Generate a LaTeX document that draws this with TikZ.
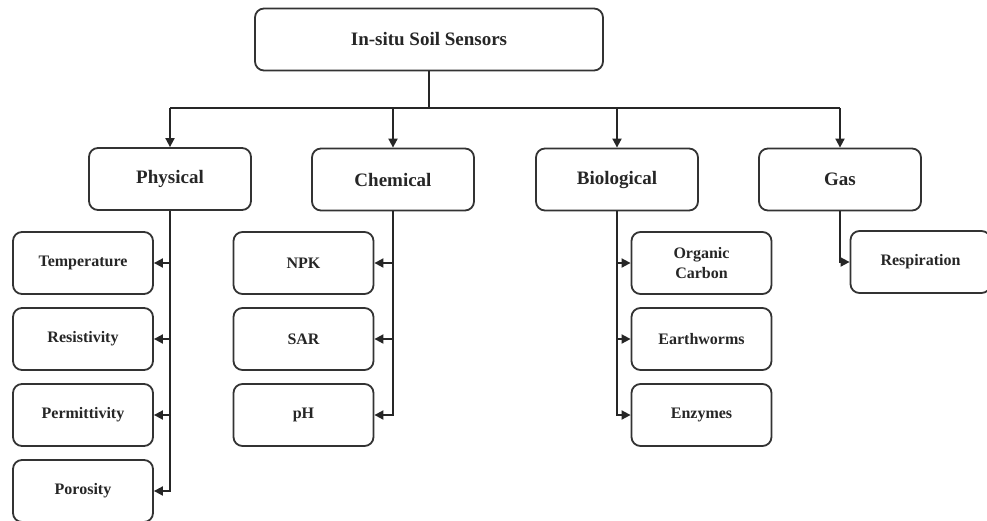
\documentclass[tikz,border=0pt]{standalone}
\usepackage{fontspec}
\setmainfont{Liberation Serif}
\usetikzlibrary{arrows.meta}
\begin{document}
\begin{tikzpicture}[x=1pt,y=-1pt,
  box/.style={draw=black!80, line width=1.8pt, rounded corners=9pt, fill=white,
    inner sep=0pt, align=center, text=black!85, font=\bfseries},
  rootbox/.style={box, minimum width=348pt, minimum height=62pt, font=\bfseries\fontsize{19}{22}\selectfont},
  catbox/.style={box, minimum width=162pt, minimum height=62pt, font=\bfseries\fontsize{19}{22}\selectfont},
  leafbox/.style={box, minimum width=140pt, minimum height=62pt, font=\bfseries\fontsize{16}{20}\selectfont},
  link/.style={draw=black!85, line width=1.8pt},
  arrow/.style={link, -{Triangle[length=9pt,width=9pt]}}]
\useasboundingbox (0,0) rectangle (987,520);

% root
\node[rootbox] (root) at (429,39.5) {In-situ Soil Sensors};

% categories
\node[catbox] (phys) at (170,179) {Physical};
\node[catbox] (chem) at (393,179.5) {Chemical};
\node[catbox] (bio)  at (617,179.5) {Biological};
\node[catbox] (gas)  at (840,179.5) {Gas};

% physical leaves
\node[leafbox] (temp) at (83,263) {Temperature};
\node[leafbox] (resi) at (83,339) {Resistivity};
\node[leafbox] (perm) at (83,415) {Permittivity};
\node[leafbox] (poro) at (83,491) {Porosity};

% chemical leaves
\node[leafbox] (npk) at (303.5,263) {NPK};
\node[leafbox] (sar) at (303.5,339) {SAR};
\node[leafbox] (ph)  at (303.5,415) {pH};

% biological leaves
\node[leafbox] (orgc) at (701.5,263) {Organic\\Carbon};
\node[leafbox] (eart) at (701.5,339) {Earthworms};
\node[leafbox] (enzy) at (701.5,415) {Enzymes};

% gas leaf
\node[leafbox] (resp) at (920.5,262) {Respiration};

% root to categories
\coordinate (bus) at (429,108);
\draw[link] (root.south) -- (bus);
\draw[link] (phys.north |- bus) -- (gas.north |- bus);
\foreach \c in {phys,chem,bio,gas}
  \draw[arrow] (\c.north |- bus) -- (\c.north);

% physical branch
\draw[arrow] (phys.south) |- (poro.east);
\foreach \l in {temp,resi,perm}
  \draw[arrow] (phys.south |- \l.east) -- (\l.east);

% chemical branch
\draw[arrow] (chem.south) |- (ph.east);
\foreach \l in {npk,sar}
  \draw[arrow] (chem.south |- \l.east) -- (\l.east);

% biological branch
\draw[arrow] (bio.south) |- (enzy.west);
\foreach \l in {orgc,eart}
  \draw[arrow] (bio.south |- \l.west) -- (\l.west);

% gas branch
\draw[arrow] (gas.south) |- (resp.west);
\end{tikzpicture}
\end{document}
